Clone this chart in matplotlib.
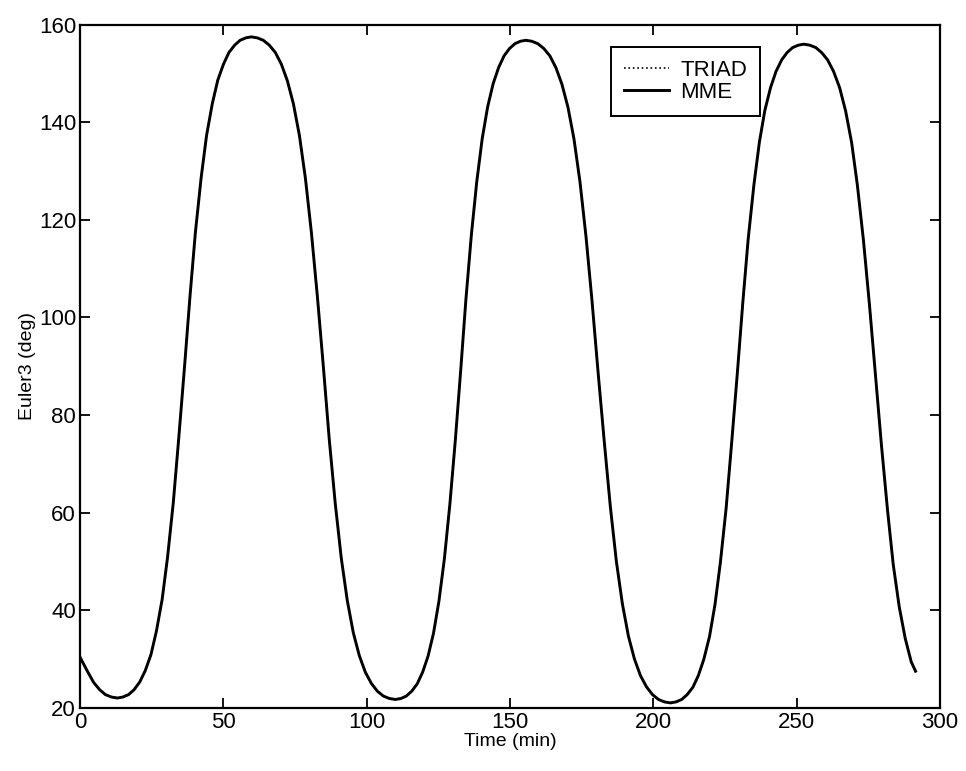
import matplotlib
matplotlib.use('Agg')
import matplotlib.pyplot as plt

# Euler3 angle vs time
time_min = [
    0, 2.6, 4.7, 6.8, 8.8, 10.9, 13.0,
    14.9, 16.9, 18.8, 20.8, 22.7, 24.7, 26.6, 28.6, 30.5, 32.5, 34.4, 36.4,
    38.3, 40.2, 42.2, 44.1, 46.1, 48.0, 50.0, 51.9, 53.9, 55.8, 57.8, 59.7,
    61.8, 63.9, 66.0, 68.1, 70.2, 72.3, 74.4, 76.5, 78.6, 80.7, 82.8, 84.9,
    86.9, 89.0, 91.1, 93.2, 95.3, 97.4, 99.5, 101.6, 103.7, 105.8, 107.9, 110.0,
    111.9, 113.8, 115.7, 117.6, 119.5, 121.4, 123.3, 125.2, 127.1, 129.0, 130.9, 132.8,
    134.6, 136.5, 138.4, 140.3, 142.2, 144.1, 146.0, 147.9, 149.8, 151.7, 153.6, 155.5,
    157.6, 159.7, 161.8, 163.9, 166.0, 168.1, 170.2, 172.3, 174.4, 176.5, 178.6, 180.7,
    182.9, 185.0, 187.1, 189.2, 191.3, 193.4, 195.5, 197.6, 199.7, 201.8, 203.9, 206.0,
    207.9, 209.9, 211.8, 213.8, 215.7, 217.6, 219.6, 221.5, 223.4, 225.4, 227.3, 229.3,
    231.2, 233.1, 235.1, 237.0, 238.9, 240.9, 242.8, 244.8, 246.7, 248.6, 250.6, 252.5,
    254.6, 256.7, 258.7, 260.8, 262.9, 265.0, 267.1, 269.2, 271.2, 273.3, 275.4, 277.5,
    279.6, 281.7, 283.7, 285.8, 287.9, 290.0, 291.5,
]

euler3_mme = [
    30.3, 27.4, 25.2, 23.7, 22.7, 22.2, 22.0,
    22.2, 22.7, 23.7, 25.3, 27.6, 30.9, 35.7, 42.2, 50.9, 62.1, 75.3, 89.8,
    104.2, 117.4, 128.6, 137.3, 143.8, 148.6, 151.9, 154.3, 155.8, 156.8, 157.3, 157.5,
    157.3, 156.8, 155.8, 154.3, 151.9, 148.5, 143.8, 137.3, 128.5, 117.3, 104.1, 89.6,
    75.1, 61.9, 50.7, 42.0, 35.4, 30.7, 27.3, 25.0, 23.4, 22.4, 21.9, 21.7,
    21.9, 22.4, 23.4, 24.9, 27.3, 30.6, 35.3, 41.9, 50.6, 61.7, 74.8, 89.3,
    103.7, 116.9, 127.9, 136.7, 143.2, 147.9, 151.2, 153.6, 155.1, 156.1, 156.6, 156.8,
    156.6, 156.1, 155.1, 153.6, 151.2, 147.8, 143.1, 136.6, 127.8, 116.6, 103.4, 88.9,
    74.4, 61.2, 50.0, 41.3, 34.7, 30.0, 26.6, 24.3, 22.7, 21.7, 21.2, 21.0,
    21.2, 21.7, 22.7, 24.2, 26.6, 29.9, 34.6, 41.1, 49.8, 60.9, 74.1, 88.5,
    102.9, 116.1, 127.2, 135.9, 142.4, 147.1, 150.4, 152.8, 154.3, 155.3, 155.8, 156.0,
    155.8, 155.3, 154.3, 152.8, 150.4, 147.1, 142.3, 135.8, 127.1, 115.9, 102.7, 88.3,
    73.8, 60.6, 49.4, 40.7, 34.2, 29.4, 27.5,
]

# TRIAD estimate lies on top of the MME curve in the reference
euler3_triad = list(euler3_mme)

x_ticks = [0, 50, 100, 150, 200, 250, 300]
y_ticks = [20, 40, 60, 80, 100, 120, 140, 160]

plt.rcParams['font.family'] = ['Liberation Sans', 'DejaVu Sans']

fig = plt.figure(figsize=(9.66, 7.71), dpi=100)
ax = fig.add_axes([0.083, 0.082, 0.89, 0.886])

ax.plot(time_min, euler3_triad, color='black', linestyle=':', linewidth=1.2, label='TRIAD')
ax.plot(time_min, euler3_mme, color='black', linestyle='-', linewidth=2.1, label='MME')

ax.set_xlim(0, 300)
ax.set_ylim(20, 160)
ax.set_xticks(x_ticks)
ax.set_yticks(y_ticks)
ax.tick_params(direction='in', length=7, width=1.3, labelsize=16,
               top=True, right=True, pad=3)
for sp in ax.spines.values():
    sp.set_linewidth(1.6)

ax.set_xlabel('Time (min)', fontsize=14, labelpad=0)
ax.set_ylabel('Euler3 (deg)', fontsize=14, labelpad=2)

leg = ax.legend(loc='upper right', bbox_to_anchor=(0.791, 0.968), borderaxespad=0,
                fontsize=16, fancybox=False, framealpha=1, edgecolor='black',
                handlelength=2.0, borderpad=0.6, labelspacing=0.05, handletextpad=0.5)
leg.get_frame().set_linewidth(1.4)

fig.savefig('out.png', dpi=100)
